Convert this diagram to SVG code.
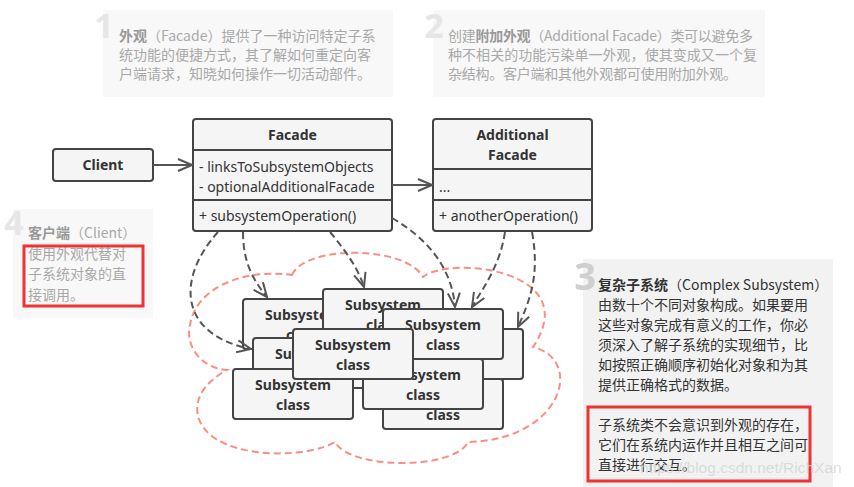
<svg xmlns="http://www.w3.org/2000/svg" width="854" height="487" viewBox="0 0 854 487">
<defs>
<style>
.box{fill:#f5f5f5;stroke:#444;stroke-width:2}
.t{font-family:"Noto Sans","Open Sans",sans-serif;fill:#333;font-size:14px}
.tb{font-weight:bold}
.c{text-anchor:middle}
.note{fill:#f8f8f8}
.note3{fill:#f2f2f2}
.nt{font-family:"Noto Sans CJK SC","Noto Sans",sans-serif;font-size:14px;fill:#a8a8a8}
.nb{font-weight:bold;fill:#999}
.nt3{font-family:"Noto Sans CJK SC","Noto Sans",sans-serif;font-size:14px;fill:#333}
.num{font-family:"Noto Sans","Open Sans",sans-serif;font-weight:bold;font-size:34px;fill:#e6e6e6;text-anchor:middle}
.dash{fill:none;stroke:#555;stroke-width:2;stroke-dasharray:7 4}
.solid{fill:none;stroke:#555;stroke-width:2}
.cloud{fill:none;stroke:#fb8e7e;stroke-width:2;stroke-dasharray:7 4}
.hl{fill:none;stroke:#f03232;stroke-width:3}
</style>
<marker id="arr" viewBox="0 0 16 14" refX="15" refY="7" markerWidth="16" markerHeight="14" markerUnits="userSpaceOnUse" orient="auto">
<path d="M1,1 L15,7 L1,13" fill="none" stroke="#555" stroke-width="2" stroke-dasharray="none"/>
</marker>
</defs>
<rect width="854" height="487" fill="#fff"/>

<g id="note1">
<rect class="note" x="103" y="10" width="290" height="87"/>
<text class="num" x="104" y="38">1</text>
<text class="nt" x="119" y="41"><tspan class="nb">外观</tspan>（Facade）提供了一种访问特定子系</text>
<text class="nt" x="119" y="60">统功能的便捷方式，其了解如何重定向客</text>
<text class="nt" x="119" y="79">户端请求，知晓如何操作一切活动部件。</text>
</g>

<g id="note2">
<rect class="note" x="433" y="10" width="332" height="87"/>
<text class="num" x="434" y="38">2</text>
<text class="nt" x="448" y="41" textLength="305">创建<tspan class="nb">附加外观</tspan>（Additional Facade）类可以避免多</text>
<text class="nt" x="448" y="60" textLength="309">种不相关的功能污染单一外观，使其变成又一个复</text>
<text class="nt" x="448" y="79" textLength="289">杂结构。客户端和其他外观都可使用附加外观。</text>
</g>

<g id="note4">
<rect class="note" x="13" y="209" width="140" height="109"/>
<text class="num" x="14" y="235">4</text>
<text class="nt" x="28" y="238"><tspan class="nb">客户端</tspan>（Client）</text>
<text class="nt" x="28" y="258.5">使用外观代替对</text>
<text class="nt" x="28" y="279">子系统对象的直</text>
<text class="nt" x="28" y="299.5">接调用。</text>
</g>

<g id="note3">
<rect class="note3" x="583" y="259" width="250" height="228"/>
<text class="num" x="585" y="290" style="fill:#cfcfcf;font-size:38px">3</text>
<text class="nt3" x="598" y="290"><tspan font-weight="bold">复杂子系统</tspan>（Complex Subsystem）</text>
<text class="nt3" x="598" y="309.5">由数十个不同对象构成。如果要用</text>
<text class="nt3" x="598" y="329.5">这些对象完成有意义的工作，你必</text>
<text class="nt3" x="598" y="349.5">须深入了解子系统的实现细节，比</text>
<text class="nt3" x="598" y="370">如按照正确顺序初始化对象和为其</text>
<text class="nt3" x="598" y="390">提供正确格式的数据。</text>
<text class="nt3" x="598" y="430">子系统类不会意识到外观的存在，</text>
<text class="nt3" x="598" y="450">它们在系统内运作并且相互之间可</text>
<text class="nt3" x="598" y="469.5">直接进行交互。</text>
</g>

<g id="cloud">
<path class="cloud" d="M292,275 C305,245 405,245 423,277 C450,255 585,270 533,347 C585,360 562,440 468,442 C455,470 350,470 335,442 C312,456 245,460 213,437 C190,420 190,390 227,370 C200,368 185,345 190,325 C195,290 240,268 292,275 Z"/>
</g>

<g id="client">
<rect class="box" x="53" y="149" width="100" height="32" rx="3"/>
<text class="t tb c" x="103" y="170">Client</text>
</g>

<g id="facade">
<rect class="box" x="193" y="119" width="199" height="112" rx="3"/>
<line class="solid" x1="193" y1="150" x2="392" y2="150" style="stroke:#444"/>
<line class="solid" x1="193" y1="200" x2="392" y2="200" style="stroke:#444"/>
<text class="t tb c" x="292.5" y="140">Facade</text>
<text class="t" x="199" y="172">- linksToSubsystemObjects</text>
<text class="t" x="199" y="192">- optionalAdditionalFacade</text>
<text class="t" x="199" y="221">+ subsystemOperation()</text>
</g>

<g id="additional-facade">
<rect class="box" x="433" y="119" width="159" height="112" rx="3"/>
<line class="solid" x1="433" y1="169" x2="592" y2="169" style="stroke:#444"/>
<line class="solid" x1="433" y1="200" x2="592" y2="200" style="stroke:#444"/>
<text class="t tb c" x="512.5" y="140">Additional</text>
<text class="t tb c" x="512.5" y="160">Facade</text>
<text class="t" x="439" y="192">...</text>
<text class="t" x="439" y="221">+ anotherOperation()</text>
</g>

<g id="sub-L" transform="translate(383,379)"><rect class="box" width="120" height="50" rx="3"/><text class="t tb c" x="60" y="21">Subsystem</text><text class="t tb c" x="60" y="41">class</text></g>
<g id="sub-J" transform="translate(403,329)"><rect class="box" width="120" height="50" rx="3"/><text class="t tb c" x="60" y="21">Subsystem</text><text class="t tb c" x="60" y="41">class</text></g>
<g id="sub-A" transform="translate(243,299)"><rect class="box" width="120" height="50" rx="3"/><text class="t tb c" x="60" y="21">Subsystem</text><text class="t tb c" x="60" y="41">class</text></g>
<g id="sub-B" transform="translate(323,289)"><rect class="box" width="120" height="50" rx="3"/><text class="t tb c" x="60" y="21">Subsystem</text><text class="t tb c" x="60" y="41">class</text></g>
<g id="sub-I" transform="translate(383,309)"><rect class="box" width="120" height="50" rx="3"/><text class="t tb c" x="60" y="21">Subsystem</text><text class="t tb c" x="60" y="41">class</text></g>
<g id="sub-D" transform="translate(253,338)"><rect class="box" width="120" height="50" rx="3"/><text class="t tb c" x="60" y="21">Subsystem</text><text class="t tb c" x="60" y="41">class</text></g>
<g id="sub-F" transform="translate(233,369)"><rect class="box" width="120" height="50" rx="3"/><text class="t tb c" x="60" y="21">Subsystem</text><text class="t tb c" x="60" y="41">class</text></g>
<g id="sub-K" transform="translate(363,359)"><rect class="box" width="120" height="50" rx="3"/><text class="t tb c" x="60" y="21">Subsystem</text><text class="t tb c" x="60" y="41">class</text></g>
<g id="sub-E" transform="translate(293,329)"><rect class="box" width="120" height="50" rx="3"/><text class="t tb c" x="60" y="21">Subsystem</text><text class="t tb c" x="60" y="41">class</text></g>

<g id="connectors">
<path class="solid" d="M153,165 L192,165" marker-end="url(#arr)"/>
<path class="solid" d="M392,185 L432,185" marker-end="url(#arr)"/>
<path class="dash" d="M218,232 C175,280 180,335 251,349" marker-end="url(#arr)"/>
<path class="dash" d="M243,232 C243,265 255,282 267,297" marker-end="url(#arr)"/>
<path class="dash" d="M330,232 C345,250 358,268 364,287" marker-end="url(#arr)"/>
<path class="dash" d="M392,218 C430,240 452,270 455,307" marker-end="url(#arr)"/>
<path class="dash" d="M505,232 C500,265 485,285 472,307" marker-end="url(#arr)"/>
<path class="dash" d="M532,232 C540,275 530,300 518,327" marker-end="url(#arr)"/>
</g>

<g id="highlights">
<rect class="hl" x="24" y="246" width="119" height="60"/>
<rect class="hl" x="588" y="407" width="222" height="74"/>
</g>

<text x="640" y="473" font-family="Liberation Sans, Arial, sans-serif" font-size="15.5" fill="#d4d4d4" fill-opacity="0.8">https://blog.csdn.net/RichXan</text>
</svg>
